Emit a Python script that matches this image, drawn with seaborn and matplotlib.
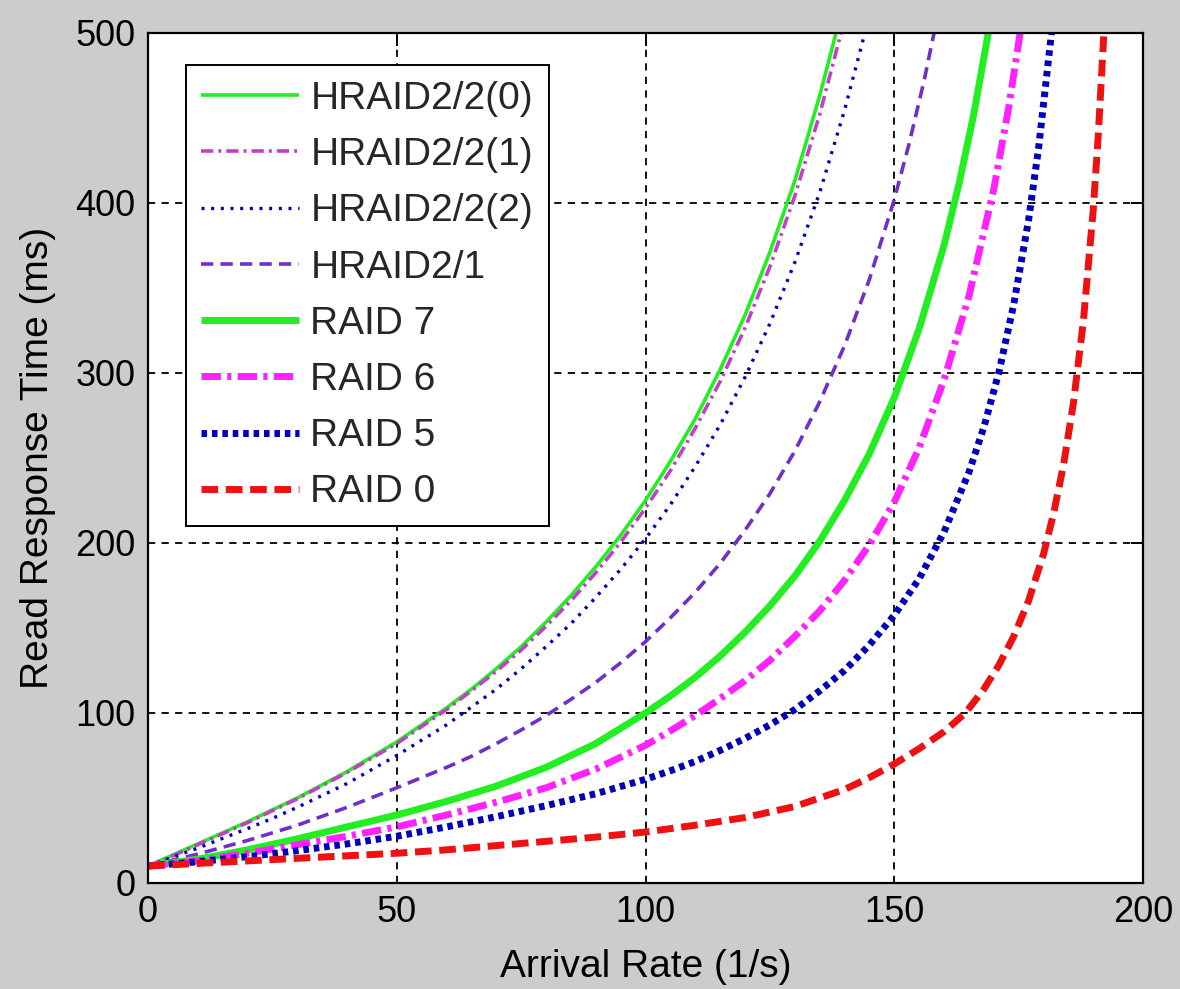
import matplotlib
matplotlib.use("Agg")
import matplotlib.pyplot as plt
import seaborn as sns
import pandas as pd

# Read response time (ms) versus arrival rate (1/s) for each array layout
hraid22_0_x = [0, 5, 10, 20, 25, 30, 40, 50, 55, 60, 65, 70, 75, 80, 85, 90, 95, 100,
               105, 110, 115, 120, 125, 130, 135, 138.3]
hraid22_0_y = [10, 16.5, 23, 36, 43, 50, 65.5, 83, 93, 103, 114, 126, 139, 153.5, 169, 186,
               204.5, 225, 248, 273, 302, 334, 371, 413, 463, 500]

hraid22_1_x = [0, 5, 10, 20, 25, 30, 40, 50, 55, 60, 65, 70, 75, 80, 85, 90, 95, 100,
               105, 110, 115, 120, 125, 130, 135, 139.3]
hraid22_1_y = [10, 16, 22.5, 35.5, 42.5, 49.5, 65, 82, 92, 102, 113, 124.5, 137, 151, 166,
               182.5, 200.5, 220.5, 242.5, 267.5, 295, 326.5, 362.5, 404, 452, 500]

hraid22_2_x = [0, 10, 20, 25, 30, 40, 50, 60, 65, 70, 75, 80, 85, 90, 95, 100, 105, 110,
               115, 120, 125, 130, 135, 140, 144.1]
hraid22_2_y = [10, 20.5, 32, 38, 44.5, 58.5, 75, 93, 103.5, 114, 126, 139, 152.5, 168, 184.5,
               202.5, 222.5, 245, 269.5, 297.5, 329, 365, 406, 454.5, 500]

hraid21_x = [0, 10, 20, 30, 40, 50, 60, 65, 70, 75, 80, 85, 90, 95, 100, 105, 110, 115,
             120, 125, 130, 135, 140, 145, 150, 153, 156, 158]
hraid21_y = [10, 17, 25, 34, 44.5, 56, 68, 74.5, 82, 90, 98.5, 108, 118, 129.5, 142, 156,
             171, 188, 207.5, 229, 254, 283, 316, 355, 402, 435, 472, 500]

raid7_x = [0, 10, 20, 30, 40, 50, 60, 70, 80, 90, 100, 105, 110, 115, 120, 125, 130, 135,
           140, 145, 150, 155, 160, 163, 166, 168.9]
raid7_y = [10, 14, 19.5, 26, 33, 40, 48, 57, 68, 82, 100, 110, 121, 133.5, 147.5, 163, 180.5,
           201, 225, 252.5, 285.5, 326, 375, 411, 452.5, 500]

raid6_x = [0, 10, 20, 30, 40, 50, 60, 70, 80, 90, 100, 105, 110, 115, 120, 125, 130, 135,
           140, 145, 150, 155, 160, 165, 170, 173, 175.3]
raid6_y = [10, 13, 17.5, 22.5, 27.5, 33, 40, 47.5, 56, 67, 81, 89.5, 98.5, 108.5, 119, 131,
           145, 160, 178, 199, 224, 256, 296, 345, 408, 456, 500]

raid5_x = [0, 10, 20, 30, 40, 50, 60, 70, 80, 90, 100, 105, 110, 115, 120, 125, 130, 135,
           140, 145, 150, 155, 160, 165, 168, 171, 174, 177, 179, 181.6]
raid5_y = [10, 12.5, 15.5, 19, 23, 27.5, 33, 39, 45.5, 52.5, 61, 66, 71.5, 78, 85, 93, 102,
           113, 125, 140, 157.5, 179, 206.5, 241.5, 268, 300, 340, 390, 432, 500]

raid0_x = [0, 10, 20, 30, 40, 50, 60, 70, 80, 90, 100, 110, 120, 130, 135, 140, 145, 150,
           155, 160, 164.3, 168, 171, 174, 177, 180, 182, 184, 186, 188, 190, 191, 192.1]
raid0_y = [10, 11.5, 13, 14.5, 16, 17.5, 19.5, 22, 24.5, 27, 30, 34, 38.5, 45, 50, 55, 62,
           70, 79, 89, 100, 114, 128, 145, 166, 193.5, 217, 245.5, 282, 330, 396, 439.5, 498]

labels = ["HRAID2/2(0)", "HRAID2/2(1)", "HRAID2/2(2)", "HRAID2/1",
          "RAID 7", "RAID 6", "RAID 5", "RAID 0"]
xs = [hraid22_0_x, hraid22_1_x, hraid22_2_x, hraid21_x, raid7_x, raid6_x, raid5_x, raid0_x]
ys = [hraid22_0_y, hraid22_1_y, hraid22_2_y, hraid21_y, raid7_y, raid6_y, raid5_y, raid0_y]

x_ticks = [0, 50, 100, 150, 200]
y_ticks = [0, 100, 200, 300, 400, 500]

# line appearance per series
styles = [
    dict(color="#22ee22", lw=2.6, ls="-"),
    dict(color="#c040c8", lw=2.6, ls=(0, (3.4, 1.4, 0.8, 1.4))),
    dict(color="#0000bb", lw=2.4, ls=(0, (0.9, 2.0))),
    dict(color="#7030c8", lw=2.6, ls=(0, (3.4, 2.0))),
    dict(color="#22ee22", lw=5.0, ls="-"),
    dict(color="#ff22ff", lw=5.0, ls=(0, (2.8, 0.9, 0.6, 0.9))),
    dict(color="#0000bb", lw=5.0, ls=(0, (0.8, 0.7))),
    dict(color="#ee1111", lw=5.0, ls=(0, (2.4, 1.1))),
]

sns.set_theme(style="white")
plt.rcParams["font.family"] = ["Liberation Sans", "DejaVu Sans"]

fig = plt.figure(figsize=(11.8, 9.89), dpi=100, facecolor="#cccccc")
ax = fig.add_axes([148 / 1180, 1 - 883 / 989, 995 / 1180, 850 / 989])
ax.set_facecolor("white")

for lab, x, y, st in zip(labels, xs, ys, styles):
    df = pd.DataFrame({"x": x, "y": y})
    sns.lineplot(data=df, x="x", y="y", ax=ax, sort=False, color=st["color"],
                 linewidth=st["lw"], linestyle=st["ls"], label=lab,
                 solid_capstyle="butt", dash_capstyle="butt")

ax.set_xlim(0, 200)
ax.set_ylim(0, 500)
ax.set_xticks(x_ticks)
ax.set_yticks(y_ticks)
ax.grid(True, color="black", linestyle=(0, (4, 3.5)), linewidth=1.3)
ax.set_axisbelow(True)
for sp in ax.spines.values():
    sp.set_visible(True)
    sp.set_color("black")
    sp.set_linewidth(1.6)

ax.tick_params(direction="in", length=9, width=1.4, colors="black",
               labelsize=26, top=True, right=True, pad=9)
ax.set_xlabel("Arrival Rate (1/s)", fontsize=28, labelpad=13, color="black")
ax.set_ylabel("Read Response Time (ms)", fontsize=28, labelpad=14, color="black")

leg = ax.legend(loc="upper left", bbox_to_anchor=(0.038, 0.962), fontsize=28,
                frameon=True, fancybox=False, framealpha=1, edgecolor="black",
                handlelength=2.5, handletextpad=0.3, labelspacing=0.52,
                borderpad=0.4, borderaxespad=0)
leg.get_frame().set_linewidth(1.4)

fig.savefig("out.png", dpi=100, facecolor=fig.get_facecolor())
